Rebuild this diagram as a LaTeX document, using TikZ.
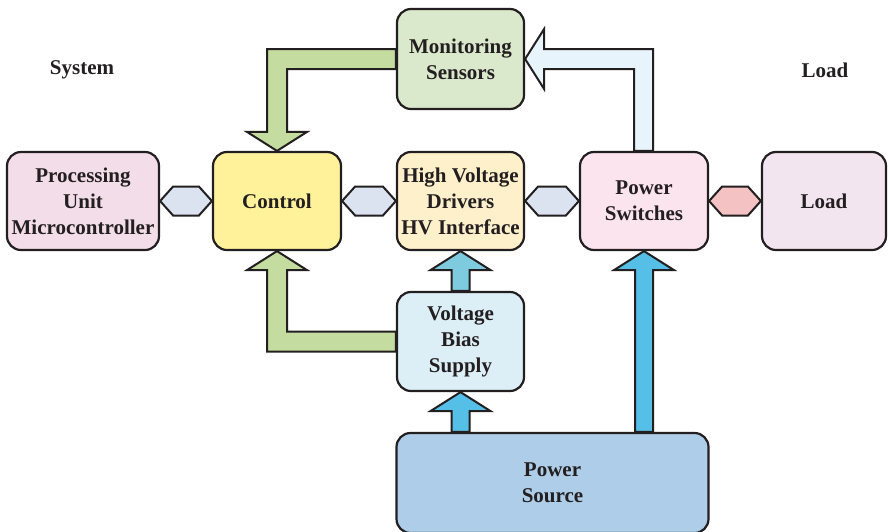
\documentclass[tikz,border=0pt]{standalone}
\usepackage{fontspec}
\setmainfont{Liberation Serif}
\usetikzlibrary{calc,backgrounds}
\definecolor{ink}{HTML}{231F20}
\definecolor{cMon}{HTML}{DAE8CC}
\definecolor{cProc}{HTML}{F3DDE9}
\definecolor{cCtrl}{HTML}{FFF29B}
\definecolor{cHV}{HTML}{FFF0CC}
\definecolor{cPS}{HTML}{FCE4EF}
\definecolor{cLoad}{HTML}{F3E5F0}
\definecolor{cVBS}{HTML}{DDEFF6}
\definecolor{cSrc}{HTML}{AECDE8}
\definecolor{aGreen}{HTML}{C5DCA0}
\definecolor{aPale}{HTML}{E8F4FB}
\definecolor{aTeal}{HTML}{7ECBE0}
\definecolor{aBlue}{HTML}{55BFE8}
\definecolor{hBlue}{HTML}{DCE3F0}
\definecolor{hPink}{HTML}{F4C2C2}
\tikzset{
  blk/.style={draw=ink, line width=2.2pt, rounded corners=14pt, align=center,
    font=\fontsize{21}{26}\selectfont\bfseries, text=ink, inner sep=0pt},
  fat/.style={draw=ink, line width=2pt, line join=miter},
  lbl/.style={font=\fontsize{21}{26}\selectfont\bfseries, text=ink}
}
\newcommand\fatup[3]{%
  \draw[fat, fill=#3] ($(#1)+(-9,0)$) -- ($(#2)+(-9,19)$) -- ($(#2)+(-30,19)$) -- (#2)
    -- ($(#2)+(30,19)$) -- ($(#2)+(9,19)$) -- ($(#1)+(9,0)$) -- cycle;}
\newcommand\hexlink[3]{%
  \draw[fat, fill=#3] (#1) -- ($(#1)+(13,-14.5)$) -- ($(#2)+(-13,-14.5)$) -- (#2)
    -- ($(#2)+(-13,14.5)$) -- ($(#1)+(13,14.5)$) -- cycle;}
\begin{document}
\begin{tikzpicture}[x=1pt,y=-1pt]
\useasboundingbox (0,0) rectangle (888,531);
\node[lbl] (sys) at (82,70) {System};
\node[lbl] (lodl) at (825,70) {Load};

\node[blk, fill=cMon, minimum width=127pt, minimum height=100pt] (mon) at (460.5,59) {Monitoring\\Sensors};
\node[blk, fill=cProc, minimum width=152pt, minimum height=98pt] (proc) at (83,201) {Processing\\Unit\\Microcontroller};
\node[blk, fill=cCtrl, minimum width=128pt, minimum height=98pt] (ctrl) at (277,201) {Control};
\node[blk, fill=cHV, minimum width=127pt, minimum height=98pt] (hv) at (460.5,201) {High Voltage\\Drivers\\HV Interface};
\node[blk, fill=cPS, minimum width=128pt, minimum height=98pt] (ps) at (644,201) {Power\\Switches};
\node[blk, fill=cLoad, minimum width=124pt, minimum height=98pt] (load) at (824,201) {Load};
\node[blk, fill=cVBS, minimum width=127pt, minimum height=99pt] (vbs) at (460.5,341.5) {Voltage\\Bias\\Supply};
\node[blk, fill=cSrc, minimum width=312pt, minimum height=100pt] (src) at (552.5,483) {Power\\Source};

\begin{scope}[on background layer]
  % green arrow Monitoring -> Control
  \coordinate (g1a) at ($(mon.west)+(0,-10)$);
  \coordinate (g1b) at ($(mon.west)+(0,10)$);
  \coordinate (cnL) at ($(ctrl.north)+(-10,0)$);
  \coordinate (cnR) at ($(ctrl.north)+(10,0)$);
  \draw[fat, fill=aGreen] (g1a) -- (cnL |- g1a) -- ($(cnL)+(0,-19)$) -- ($(ctrl.north)+(-30,-19)$)
    -- (ctrl.north) -- ($(ctrl.north)+(30,-19)$) -- ($(cnR)+(0,-19)$) -- (cnR |- g1b) -- (g1b) -- cycle;
  % pale arrow Power Switches -> Monitoring
  \coordinate (meU) at ($(mon.east)+(0,-10)$);
  \coordinate (meD) at ($(mon.east)+(0,10)$);
  \coordinate (psL) at ($(ps.north)+(-10,0)$);
  \coordinate (psR) at ($(ps.north)+(9,0)$);
  \draw[fat, fill=aPale] (psL) -- (psL |- meD) -- ($(mon.east)+(19,10)$) -- ($(mon.east)+(19,30)$)
    -- (mon.east) -- ($(mon.east)+(19,-30)$) -- ($(mon.east)+(19,-10)$) -- (psR |- meU) -- (psR) -- cycle;
  % green arrow Voltage Bias -> Control
  \coordinate (vwU) at ($(vbs.west)+(0,-10)$);
  \coordinate (vwD) at ($(vbs.west)+(0,10)$);
  \coordinate (csL) at ($(ctrl.south)+(-10,0)$);
  \coordinate (csR) at ($(ctrl.south)+(10,0)$);
  \draw[fat, fill=aGreen] (vwD) -- (csL |- vwD) -- ($(csL)+(0,19)$) -- ($(ctrl.south)+(-30,19)$)
    -- (ctrl.south) -- ($(ctrl.south)+(30,19)$) -- ($(csR)+(0,19)$) -- (csR |- vwU) -- (vwU) -- cycle;
  % straight up arrows
  \coordinate (s1) at (vbs.south |- src.north);
  \coordinate (s2) at (ps.south |- src.north);
  \coordinate (vn) at (vbs.north);
  \fatup{vn}{hv.south}{aTeal}
  \fatup{s1}{vbs.south}{aBlue}
  \fatup{s2}{ps.south}{aBlue}
  % hexagon links
  \hexlink{proc.east}{ctrl.west}{hBlue}
  \hexlink{ctrl.east}{hv.west}{hBlue}
  \hexlink{hv.east}{ps.west}{hBlue}
  \hexlink{ps.east}{load.west}{hPink}
\end{scope}
\end{tikzpicture}
\end{document}
